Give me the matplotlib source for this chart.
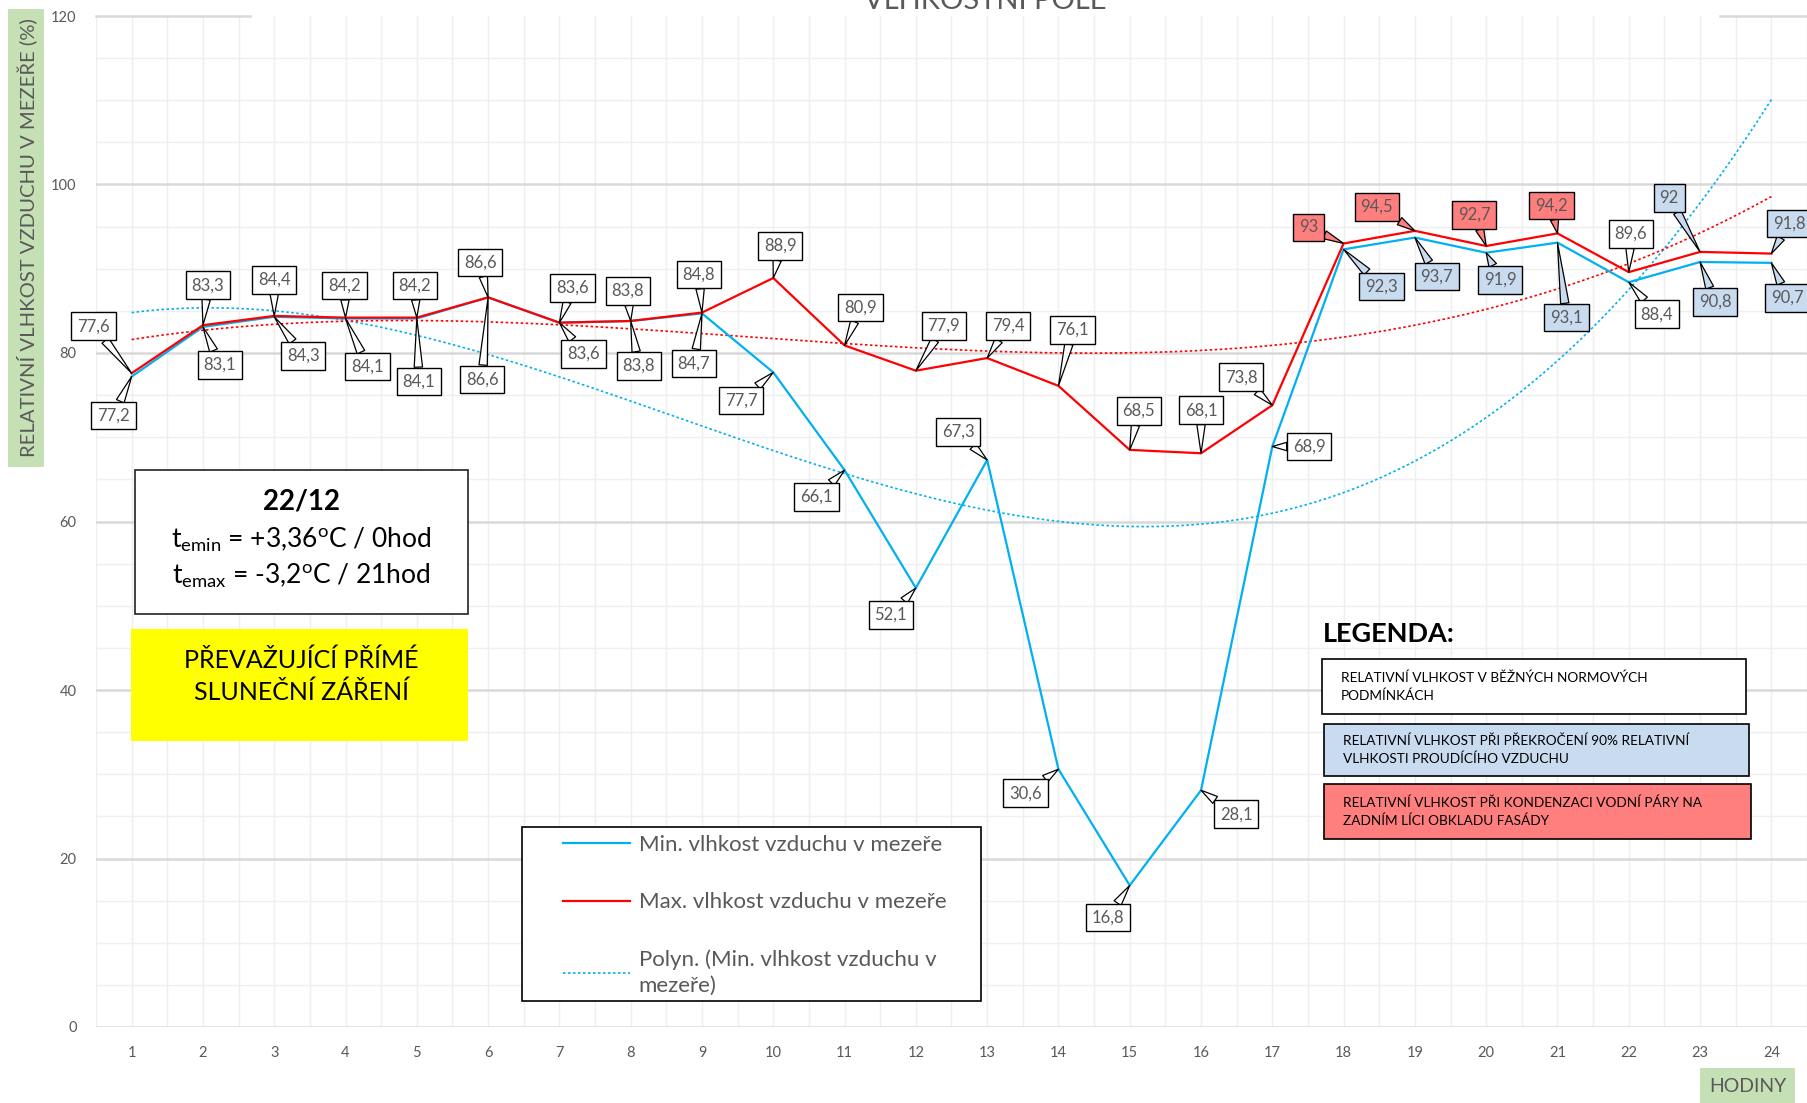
import numpy as np
import matplotlib.pyplot as plt
from matplotlib.patches import Rectangle
from matplotlib.lines import Line2D

plt.rcParams['font.family'] = ['Lato', 'DejaVu Sans']
plt.rcParams['mathtext.fontset'] = 'custom'
plt.rcParams['mathtext.rm'] = 'Lato'

# --- data ---------------------------------------------------------------
hodiny = np.arange(1, 25)
vlhkost_max = [77.6, 83.3, 84.4, 84.2, 84.2, 86.6, 83.6, 83.8, 84.8, 88.9, 80.9, 77.9,
               79.4, 76.1, 68.5, 68.1, 73.8, 93.0, 94.5, 92.7, 94.2, 89.6, 92.0, 91.8]
vlhkost_min = [77.2, 83.1, 84.3, 84.1, 84.1, 86.6, 83.6, 83.8, 84.7, 77.7, 66.1, 52.1,
               67.3, 30.6, 16.8, 28.1, 68.9, 92.3, 93.7, 91.9, 93.1, 88.4, 90.8, 90.7]

# barva stitku: w = bezne, b = nad 90 %, r = kondenzace
typ_max = ['w'] * 17 + ['r', 'r', 'r', 'r', 'w', 'b', 'b']
typ_min = ['w'] * 17 + ['b', 'b', 'b', 'b', 'w', 'b', 'b']

# posun stitku od bodu (pixely)
off_max = [(-38, 47), (5, 40), (0, 36), (-1, 32), (-2, 32), (-8, 35), (13, 35), (-3, 30),
           (-3, 38), (7, 32), (16, 38), (28, 45), (21, 32), (14, 56), (9, 39), (0, 43),
           (-31, 28), (-35, 16), (-38, 24), (-12, 31), (-6, 28), (2, 38), (-31, 54), (18, 30)]
off_min = [(-18, -39), (17, -38), (29, -39), (22, -48), (2, -63), (-6, -82), (24, -31), (8, -45),
           (-8, -50), (-32, -28), (-28, -27), (-25, -27), (-29, 28), (-33, -24), (-22, -32),
           (35, -24), (37, 0), (38, -37), (22, -39), (14, -27), (9, -75), (28, -32), (15, -40),
           (16, -35)]

BARVY = {'w': 'white', 'b': '#C9DBEF', 'r': '#FF7F7F'}
MODRA = '#00B0F0'
CERVENA = '#FF0000'
SEDA = '#595959'

fig = plt.figure(figsize=(18.07, 11.03), dpi=100)
ax = fig.add_axes([96 / 1807, 1 - 1027 / 1103, 1 - 96 / 1807, (1027 - 16) / 1103])
ax.set_xlim(0.5, 24.5)
ax.set_ylim(0, 120)
for s in ax.spines.values():
    s.set_visible(False)
ax.tick_params(length=0, colors=SEDA, labelsize=10.5, pad=14)
ax.set_xticks(hodiny)
ax.set_yticks(np.arange(0, 121, 20))

# mrizka
for x in np.arange(0.5, 24.6, 0.5):
    ax.axvline(x, color='#EFEFEF', lw=1, zorder=0)
for y in np.arange(5, 120, 5):
    if y % 20:
        ax.axhline(y, color='#EFEFEF', lw=1, zorder=0)
for y in range(0, 101, 20):
    ax.axhline(y, color='#D9D9D9', lw=1.8, zorder=0.5)
ax.axhline(120, xmin=0, xmax=0.09, color='#D9D9D9', lw=1.8, clip_on=False)
ax.axhline(120, xmin=0.949, xmax=1, color='#D9D9D9', lw=1.8, clip_on=False)

# polynomicke spojnice trendu
xx = np.linspace(1, 24, 200)
p_min = np.polyfit(hodiny, vlhkost_min, 3)
p_max = np.polyfit(hodiny, vlhkost_max, 3)
ax.plot(xx, np.polyval(p_min, xx), color=MODRA, lw=1.2, ls=(0, (1.5, 1.5)), zorder=2)
ax.plot(xx, np.polyval(p_max, xx), color=CERVENA, lw=1.2, ls=(0, (1.5, 1.5)), zorder=2)

ax.plot(hodiny, vlhkost_min, color=MODRA, lw=1.6, zorder=3)
ax.plot(hodiny, vlhkost_max, color=CERVENA, lw=1.6, zorder=3)


def stitek(x, v, off, typ):
    fc = BARVY[typ]
    txt = f"{v:g}".replace('.', ',')
    ax.annotate(txt, (x, v), xytext=off, textcoords='offset pixels',
                ha='center', va='center', fontsize=12, color=SEDA, zorder=5,
                bbox=dict(boxstyle='square,pad=0.35', fc=fc, ec='black', lw=1),
                arrowprops=dict(arrowstyle='wedge,tail_width=0.5,shrink_factor=0.5',
                                fc=fc, ec='black', lw=0.9, shrinkA=0, shrinkB=0))


for h, v, o, t in zip(hodiny, vlhkost_max, off_max, typ_max):
    stitek(h, v, o, t)
for h, v, o, t in zip(hodiny, vlhkost_min, off_min, typ_min):
    stitek(h, v, o, t)

# legenda grafu
fig.add_artist(Rectangle((522 / 1807, 1 - 1001 / 1103), 459 / 1807, 174 / 1103,
                         transform=fig.transFigure, fc='white', ec='black', lw=1.2, zorder=4))
handles = [Line2D([], [], color=MODRA, lw=1.6),
           Line2D([], [], color=CERVENA, lw=1.6),
           Line2D([], [], color=MODRA, lw=1.2, ls=(0, (1.5, 1.5)))]
labels = ['Min. vlhkost vzduchu v mezeře', 'Max. vlhkost vzduchu v mezeře',
          'Polyn. (Min. vlhkost vzduchu v\nmezeře)']
leg = fig.legend(handles, labels, loc='upper left', bbox_to_anchor=(563 / 1807, 1 - 835 / 1103),
                 frameon=False, fontsize=16, labelcolor=SEDA, borderpad=0, borderaxespad=0,
                 handlelength=3.0, handletextpad=0.4, labelspacing=1.68)
for t in leg.get_texts():
    t.set_linespacing(1.35)
leg.set_zorder(6)

# info box
fig.add_artist(Rectangle((135 / 1807, 1 - 614 / 1103), 333 / 1807, 144 / 1103,
                         transform=fig.transFigure, fc='white', ec='#222222', lw=1.2, zorder=4))
fig.text(301 / 1807, 1 - 502 / 1103, '22/12', ha='center', va='center', fontsize=20,
         fontweight='bold', zorder=6)
fig.text(301 / 1807, 1 - 540 / 1103, r'$\mathregular{t_{emin}}$ = +3,36$\mathregular{^{o}}$C / 0hod',
         ha='center', va='center', fontsize=19, zorder=6)
fig.text(301 / 1807, 1 - 576 / 1103, r'$\mathregular{t_{emax}}$ = -3,2$\mathregular{^{o}}$C / 21hod',
         ha='center', va='center', fontsize=19, zorder=6)

fig.add_artist(Rectangle((131 / 1807, 1 - 741 / 1103), 337 / 1807, 112 / 1103,
                         transform=fig.transFigure, fc='#FFFF00', ec='none', zorder=4))
fig.text(301 / 1807, 1 - 676 / 1103, 'PŘEVAŽUJÍCÍ PŘÍMÉ\nSLUNEČNÍ ZÁŘENÍ', ha='center',
         va='center', fontsize=18, linespacing=1.45, zorder=6)

# vysvetlivky barev
fig.text(1323 / 1807, 1 - 634 / 1103, 'LEGENDA:', ha='left', va='center', fontsize=19.5,
         fontweight='bold', zorder=6)
vysvetlivky = [('RELATIVNÍ VLHKOST V BĚŽNÝCH NORMOVÝCH\nPODMÍNKÁCH', 'w', 659, 714, 1322, 1746),
               ('RELATIVNÍ VLHKOST PŘI PŘEKROČENÍ 90% RELATIVNÍ\nVLHKOSTI PROUDÍCÍHO VZDUCHU', 'b', 724, 776, 1324, 1749),
               ('RELATIVNÍ VLHKOST PŘI KONDENZACI VODNÍ PÁRY NA\nZADNÍM LÍCI OBKLADU FASÁDY', 'r', 784, 839, 1324, 1751)]
for txt, t, y0, y1, x0, x1 in vysvetlivky:
    fig.add_artist(Rectangle((x0 / 1807, 1 - y1 / 1103), (x1 - x0) / 1807, (y1 - y0) / 1103,
                             transform=fig.transFigure, fc=BARVY[t], ec='black', lw=1.2, zorder=4))
    fig.text((x0 + 19) / 1807, 1 - (y0 + y1) / 2 / 1103, txt, ha='left', va='center',
             fontsize=9.8, linespacing=1.5, zorder=6)

# popisky os
fig.add_artist(Rectangle((8 / 1807, 1 - 467 / 1103), 36 / 1807, 458 / 1103,
                         transform=fig.transFigure, fc='#C5E0B4', ec='none', zorder=1))
fig.text(27 / 1807, 1 - 238 / 1103, 'RELATIVNÍ VLHKOST VZDUCHU V MEZEŘE (%)', rotation=90,
         ha='center', va='center', fontsize=14.6, color=SEDA, zorder=6)
fig.add_artist(Rectangle((1700 / 1807, 0), 95 / 1807, 35 / 1103,
                         transform=fig.transFigure, fc='#C5E0B4', ec='none', zorder=1))
fig.text(1748 / 1807, 1 - 1087 / 1103, 'HODINY', ha='center', va='center', fontsize=14,
         color=SEDA, zorder=6)

# titulek je v originale oriznuty hornim okrajem
fig.text(985 / 1807, 1 - 9 / 1103, 'VLHKOSTNÍ POLE', ha='center', va='baseline',
         fontsize=21, color=SEDA)

fig.savefig('out.png', dpi=100)
